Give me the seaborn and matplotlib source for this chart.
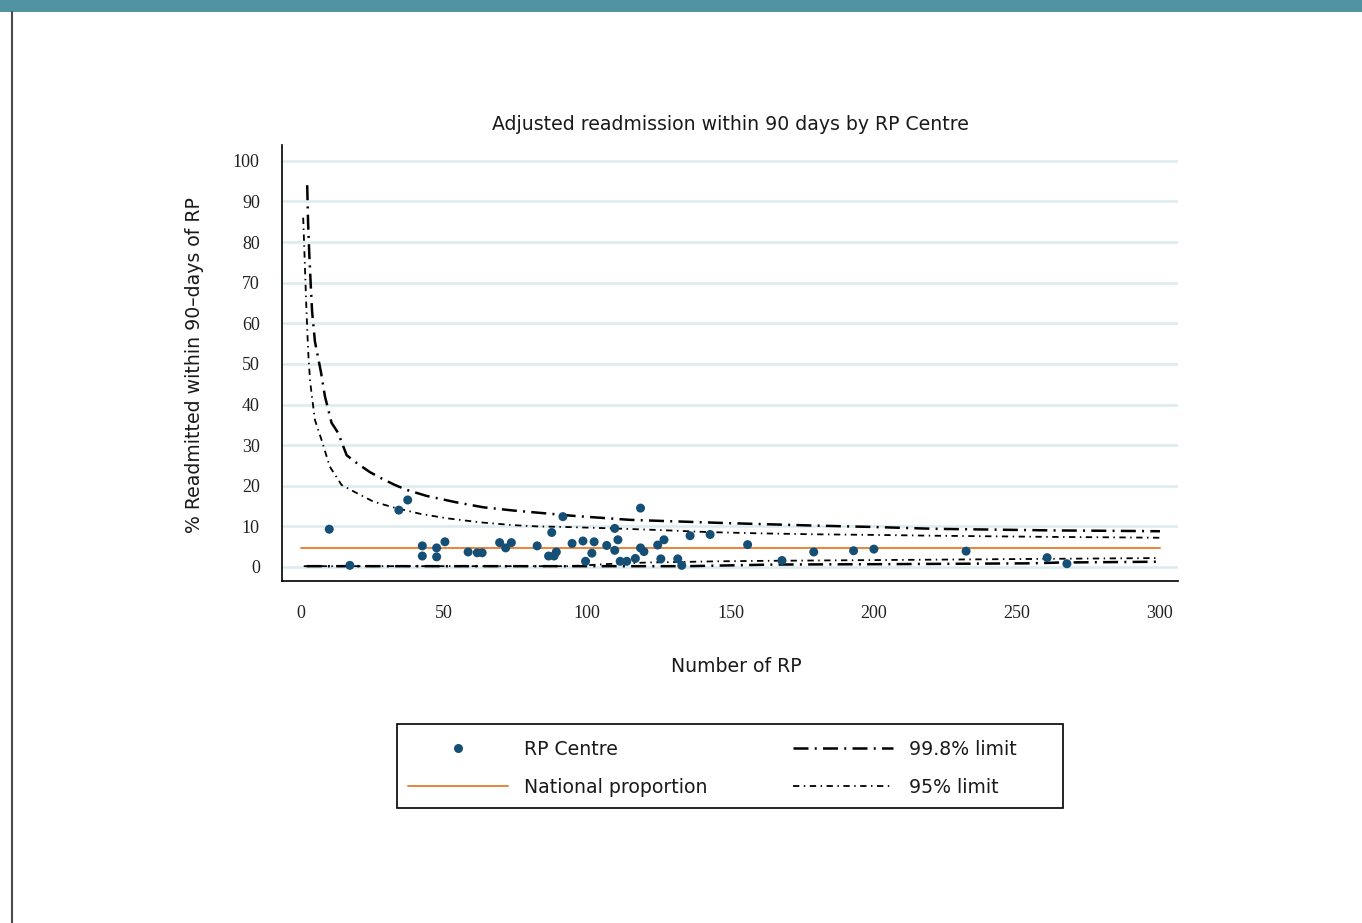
import numpy as np
import pandas as pd
import matplotlib
matplotlib.use("Agg")
import matplotlib.pyplot as plt
import seaborn as sns
from matplotlib.patches import Rectangle
from matplotlib.lines import Line2D

# ---------------- data ----------------
centre_n = [9.9, 17.1, 34.2, 37.3, 42.4, 42.4, 47.4, 47.4, 50.3, 58.4, 61.6, 63.3,
            69.4, 71.5, 73.5, 82.5, 86.5, 87.6, 88.4, 89.2, 91.5, 94.7, 98.5, 99.4,
            101.6, 102.4, 106.8, 109.6, 109.6, 110.7, 111.5, 113.8, 116.8, 118.6,
            118.6, 119.8, 124.6, 125.7, 126.8, 131.6, 133.0, 135.9, 142.9, 156.0,
            168.0, 179.1, 193.0, 200.1, 232.3, 260.6, 267.5]
centre_pct = [9.3, 0.4, 14.0, 16.5, 5.2, 2.7, 4.7, 2.5, 6.2, 3.7, 3.5, 3.5,
              6.0, 4.7, 6.0, 5.2, 2.7, 8.5, 2.7, 3.7, 12.4, 5.8, 6.4, 1.4,
              3.4, 6.2, 5.3, 9.5, 4.1, 6.7, 1.4, 1.4, 2.1, 14.5,
              4.7, 3.8, 5.4, 2.0, 6.7, 2.0, 0.4, 7.7, 8.0, 5.5,
              1.6, 3.7, 4.0, 4.4, 3.9, 2.3, 0.8]

national_n = [0, 300]
national_pct = [4.6, 4.6]

upper998_n = [2.2, 2.5, 2.9, 3.4, 3.9, 4.9, 7.0, 8.4, 10.7, 13, 16, 19.5, 24, 27.6,
              32.8, 36.9, 43.9, 54.4, 63.7, 74.2, 82.3, 95, 115, 132, 149, 159, 179,
              200, 221, 242, 263, 284, 300]
upper998 = [94, 85, 77.5, 70, 63, 55.5, 48, 42, 35.5, 33, 27.5, 25.6, 23.4, 22,
            20.2, 19, 17.5, 15.9, 14.7, 13.9, 13.4, 12.6, 11.6, 11.2, 10.8, 10.6, 10.2,
            9.85, 9.4, 9.2, 9.0, 8.9, 8.8]

upper95_n = [0.8, 1.2, 1.5, 1.9, 2.3, 2.7, 3.2, 3.7, 4.9, 7.2, 10.1, 14.2, 19.5, 25.3,
             32.2, 41.6, 50.9, 62.5, 74.2, 82.3, 95, 109, 125, 142, 159, 179, 200,
             221, 242, 263, 284, 300]
upper95 = [86, 78, 72, 64, 57, 51, 46, 42.8, 36.2, 31.3, 24.7, 20.2, 18.2, 16.1,
           14.7, 13.1, 12.0, 11.0, 10.3, 10.0, 9.8, 9.5, 9.1, 8.6, 8.3, 8.05, 7.9,
           7.7, 7.55, 7.4, 7.3, 7.2]

lower998_n = [2, 135, 150, 165, 205, 255, 265, 300]
lower998 = [0.2, 0.2, 0.4, 0.6, 0.7, 0.9, 1.1, 1.3]

lower95_n = [1, 94, 109, 121, 146, 160, 200, 240, 300]
lower95 = [0.2, 0.2, 0.8, 1.1, 1.4, 1.5, 1.7, 1.9, 2.2]

x_ticks = [0, 50, 100, 150, 200, 250, 300]
y_ticks = [0, 10, 20, 30, 40, 50, 60, 70, 80, 90, 100]

# ---------------- style ----------------
sns.set_theme(style="white")
SANS = ["DejaVu Sans"]
SERIF = ["Liberation Serif", "DejaVu Serif"]
plt.rcParams["font.family"] = SANS

W, H = 1362, 923
fig = plt.figure(figsize=(W / 100, H / 100), dpi=100)
fig.patch.set_facecolor("white")

# top band & left border
fig.add_artist(Rectangle((0, 1 - 12 / H), 1, 12 / H, transform=fig.transFigure,
                         facecolor="#5293a3", edgecolor="none"))
fig.add_artist(Line2D([12 / W, 12 / W], [0, 1 - 12 / H], transform=fig.transFigure,
                      color="#4a4a4a", lw=1.5))

ax = fig.add_axes([282 / W, 1 - 581 / H, (1178 - 282) / W, (581 - 145) / H])

DOT = "#154f75"
ORANGE = "#e8843a"
ls998 = (0, (6, 2.5, 0.8, 2.5))
ls95 = (0, (3.5, 2.5, 0.8, 2.5))
LW998 = 1.8
LW95 = 1.3

sns.lineplot(x=upper998_n, y=upper998, ax=ax, color="black", lw=LW998,
             linestyle=ls998, estimator=None, sort=False)
sns.lineplot(x=lower998_n, y=lower998, ax=ax, color="black", lw=LW998,
             linestyle=ls998, estimator=None, sort=False)
sns.lineplot(x=upper95_n, y=upper95, ax=ax, color="black", lw=LW95,
             linestyle=ls95, estimator=None, sort=False)
sns.lineplot(x=lower95_n, y=lower95, ax=ax, color="black", lw=LW95,
             linestyle=ls95, estimator=None, sort=False)
sns.lineplot(x=national_n, y=national_pct, ax=ax, color=ORANGE, lw=1.4,
             estimator=None, sort=False)
sns.scatterplot(x=centre_n, y=centre_pct, ax=ax, color=DOT, s=42,
                edgecolor="none", zorder=5)

ax.set_xlim(-6.6, 306.3)
ax.set_ylim(-3.45, 103.9)
ax.set_xticks(x_ticks)
ax.set_yticks(y_ticks)
ax.set_xticklabels([str(v) for v in x_ticks], fontfamily=SERIF, fontsize=13)
ax.set_yticklabels([str(v) for v in y_ticks], fontfamily=SERIF, fontsize=13)
ax.tick_params(axis="both", direction="out", length=8, width=1.2, color="black",
               labelcolor="#222222")
ax.tick_params(axis="x", pad=9)
ax.tick_params(axis="y", pad=8)
ax.yaxis.grid(True, color="#dcebee", lw=1.8, zorder=0)
ax.xaxis.grid(False)
ax.set_axisbelow(True)
for s in ["top", "right"]:
    ax.spines[s].set_visible(False)
for s in ["left", "bottom"]:
    ax.spines[s].set_color("black")
    ax.spines[s].set_linewidth(1.2)
ax.set_xlabel("")
ax.set_ylabel("")

TXT = "#1a1a1a"
FS = 13.6
fig.text(730 / W, 1 - 124 / H, "Adjusted readmission within 90 days by RP Centre",
         ha="center", va="center", fontsize=FS, color=TXT)
fig.text(736 / W, 1 - 666 / H, "Number of RP", ha="center", va="center",
         fontsize=FS, color=TXT)
fig.text(195 / W, 1 - 365 / H, "% Readmitted within 90\u2013days of RP", ha="center",
         va="center", rotation=90, fontsize=FS, color=TXT)

# legend: frame + two columns placed separately
fig.add_artist(Rectangle((397 / W, 1 - 808 / H), 666 / W, 84 / H,
                         transform=fig.transFigure, facecolor="white",
                         edgecolor="black", lw=1.2, zorder=1))
h_centre = Line2D([], [], marker="o", color=DOT, ls="none", markersize=6.5,
                  markeredgewidth=0)
h_nat = Line2D([], [], color=ORANGE, lw=1.4)
h_998 = Line2D([], [], color="black", lw=LW998, linestyle=ls998)
h_95 = Line2D([], [], color="black", lw=LW95, linestyle=ls95)

common = dict(loc="center left", frameon=False, fontsize=FS, handlelength=5.3,
              handletextpad=0.85, labelspacing=1.0, numpoints=1, borderpad=0,
              borderaxespad=0, bbox_transform=fig.transFigure)
leg1 = fig.legend([h_centre, h_nat], ["RP Centre", "National proportion"],
                  bbox_to_anchor=(408 / W, 1 - 768.5 / H), **common)
leg2 = fig.legend([h_998, h_95], ["99.8% limit", "95% limit"],
                  bbox_to_anchor=(793 / W, 1 - 768.5 / H), **common)
for lg in (leg1, leg2):
    lg.set_zorder(3)
    for t in lg.get_texts():
        t.set_color(TXT)

fig.savefig("out.png", dpi=100, facecolor="white")
